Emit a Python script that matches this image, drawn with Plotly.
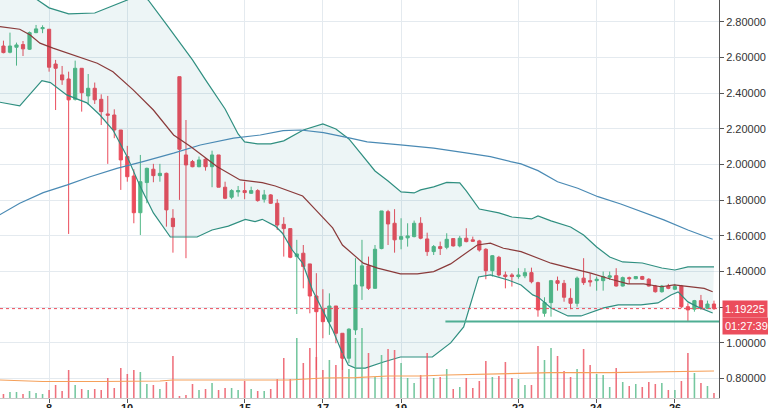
import plotly.graph_objects as go

# ---------------- data ----------------
opens = [2.665, 2.630, 2.658, 2.673, 2.647, 2.740, 2.762, 2.759, 2.564, 2.503,
         2.480, 2.366, 2.540, 2.385, 2.428, 2.366, 2.284, 2.278, 2.194, 2.045,
         1.936, 1.730, 1.899, 1.974, 1.938, 1.951, 1.699, 2.493, 2.054, 2.017,
         1.988, 2.030, 1.988, 2.054, 1.873, 1.817, 1.847, 1.854, 1.839, 1.854,
         1.806, 1.830, 1.783, 1.665, 1.641, 1.484, 1.503, 1.443, 1.263, 1.189,
         1.119, 1.207, 1.054, 0.914, 1.073, 1.319, 1.432, 1.306, 1.529, 1.736,
         1.671, 1.581, 1.589, 1.596, 1.671, 1.583, 1.512, 1.540, 1.536, 1.585,
         1.544, 1.587, 1.578, 1.572, 1.525, 1.405, 1.480, 1.381, 1.381, 1.372,
         1.376, 1.394, 1.338, 1.166, 1.226, 1.349, 1.334, 1.250, 1.222, 1.363,
         1.349, 1.349, 1.349, 1.368, 1.377, 1.319, 1.366, 1.360, 1.372, 1.357,
         1.319, 1.287, 1.319, 1.301, 1.319, 1.203, 1.189, 1.237, 1.194, 1.218]
highs = [2.695, 2.740, 2.684, 2.693, 2.746, 2.783, 2.781, 2.759, 2.587, 2.553,
         2.521, 2.583, 2.540, 2.508, 2.460, 2.394, 2.385, 2.310, 2.194, 2.105,
         1.974, 2.054, 1.983, 2.004, 2.004, 1.955, 1.750, 2.493, 2.250, 2.026,
         2.045, 2.036, 2.078, 2.054, 1.904, 1.862, 1.880, 1.904, 1.876, 1.862,
         1.858, 1.835, 1.806, 1.705, 1.641, 1.578, 1.549, 1.443, 1.391, 1.301,
         1.278, 1.207, 1.054, 1.082, 1.475, 1.578, 1.484, 1.549, 1.740, 1.746,
         1.750, 1.699, 1.671, 1.686, 1.705, 1.618, 1.549, 1.568, 1.615, 1.585,
         1.600, 1.643, 1.596, 1.578, 1.531, 1.493, 1.488, 1.400, 1.391, 1.419,
         1.419, 1.422, 1.343, 1.256, 1.353, 1.372, 1.353, 1.306, 1.372, 1.475,
         1.391, 1.372, 1.400, 1.400, 1.419, 1.372, 1.372, 1.372, 1.376, 1.363,
         1.325, 1.325, 1.331, 1.331, 1.325, 1.222, 1.241, 1.269, 1.237, 1.237]
lows = [2.624, 2.624, 2.555, 2.609, 2.643, 2.737, 2.737, 2.521, 2.306, 2.447,
        1.611, 2.359, 2.297, 2.335, 2.340, 2.222, 2.004, 2.148, 1.858, 1.904,
        1.671, 1.605, 1.783, 1.901, 1.904, 1.652, 1.506, 1.802, 1.475, 1.985,
        1.985, 1.966, 1.873, 1.873, 1.806, 1.806, 1.820, 1.806, 1.835, 1.792,
        1.787, 1.779, 1.633, 1.484, 1.475, 1.162, 1.306, 1.166, 0.848, 1.026,
        1.045, 0.998, 0.848, 0.886, 1.045, 1.241, 1.297, 1.306, 1.525, 1.549,
        1.506, 1.525, 1.540, 1.592, 1.581, 1.488, 1.493, 1.493, 1.525, 1.540,
        1.536, 1.564, 1.566, 1.512, 1.357, 1.372, 1.372, 1.306, 1.316, 1.360,
        1.363, 1.334, 1.147, 1.147, 1.147, 1.293, 1.231, 1.189, 1.203, 1.325,
        1.316, 1.293, 1.293, 1.353, 1.316, 1.316, 1.331, 1.357, 1.353, 1.316,
        1.282, 1.282, 1.301, 1.297, 1.194, 1.119, 1.175, 1.185, 1.189, 1.185]
closes = [2.628, 2.665, 2.671, 2.649, 2.740, 2.761, 2.768, 2.546, 2.540, 2.475,
          2.363, 2.540, 2.403, 2.428, 2.363, 2.297, 2.277, 2.194, 2.026, 1.932,
          1.730, 1.904, 1.979, 1.938, 1.951, 1.746, 1.652, 2.086, 1.998, 1.988,
          2.026, 1.988, 2.054, 1.873, 1.811, 1.854, 1.854, 1.843, 1.854, 1.798,
          1.830, 1.783, 1.661, 1.641, 1.480, 1.499, 1.428, 1.263, 1.175, 1.119,
          1.207, 1.054, 0.914, 1.077, 1.325, 1.432, 1.306, 1.525, 1.740, 1.667,
          1.578, 1.596, 1.600, 1.671, 1.587, 1.512, 1.540, 1.529, 1.581, 1.544,
          1.587, 1.568, 1.570, 1.521, 1.405, 1.489, 1.381, 1.372, 1.372, 1.381,
          1.394, 1.343, 1.185, 1.226, 1.349, 1.334, 1.256, 1.222, 1.363, 1.338,
          1.342, 1.357, 1.372, 1.376, 1.319, 1.366, 1.360, 1.372, 1.357, 1.319,
          1.287, 1.319, 1.306, 1.316, 1.203, 1.185, 1.237, 1.194, 1.218, 1.19225]
volumes = [4, 6, 6, 4, 7, 5, 4, 8, 13, 7,
           28, 13, 9, 8, 9, 8, 20, 10, 30, 24,
           28, 26, 14, 13, 9, 16, 42, 2, 3, 14,
           8, 9, 15, 8, 10, 10, 8, 17, 9, 7,
           7, 9, 19, 40, 19, 60, 35, 50, 41, 28,
           38, 33, 45, 29, 60, 70, 45, 21, 43, 49,
           48, 35, 20, 15, 23, 45, 20, 21, 29, 9,
           11, 20, 10, 17, 37, 21, 22, 36, 20, 19,
           13, 13, 52, 38, 50, 42, 27, 21, 29, 49,
           33, 24, 23, 11, 30, 16, 12, 14, 11, 16,
           14, 15, 8, 8, 17, 45, 25, 15, 12, 5]
candle_idx = list(range(len(closes)))

# Bollinger upper band
bb_upper_x = [-0.6, 3, 5, 7, 10, 14, 17, 19, 20.5, 22.2, 25, 29, 31, 34, 36, 37, 39, 41, 43, 46,
              49, 51, 53, 55, 57, 59, 61, 63, 64, 66, 68, 70, 71, 73, 76, 78, 81, 82, 84, 87,
              89, 91, 93, 95, 98, 101, 103, 105, 109]
bb_upper_y = [3.110, 2.991, 2.929, 2.879, 2.845, 2.850, 2.895, 2.923, 2.957, 2.923, 2.786, 2.587,
              2.475, 2.312, 2.172, 2.127, 2.116, 2.116, 2.133, 2.194, 2.228, 2.200, 2.144, 2.054,
              1.964, 1.908, 1.847, 1.841, 1.858, 1.875, 1.900, 1.897, 1.852, 1.751, 1.729, 1.706,
              1.695, 1.712, 1.684, 1.650, 1.605, 1.538, 1.482, 1.454, 1.448, 1.420, 1.409, 1.426,
              1.426]
# Bollinger lower band
bb_lower_x = [-0.6, 2.5, 5.9, 7.2, 9.7, 12.8, 14.8, 16.8, 19.0, 21.0, 23.0, 25.6, 29.7, 32.0,
              34.5, 37.1, 38.6, 39.7, 41.7, 42.8, 44.3, 45.9, 47.4, 48.9, 50.5, 52.0, 52.9,
              54.0, 55.5, 58.3, 60.9, 65.8, 68.6, 70.6, 71.7, 72.9, 74.7, 77.4, 79.4, 81.2,
              82.0, 84.0, 86.6, 88.6, 92.1, 94.3, 97.8, 100.4, 102.4, 103.5, 105.0, 106.5, 108.8]
bb_lower_y = [2.350, 2.329, 2.471, 2.460, 2.391, 2.346, 2.278, 2.194, 2.043, 1.875, 1.729, 1.594,
              1.594, 1.633, 1.655, 1.693, 1.680, 1.693, 1.655, 1.615, 1.521, 1.447, 1.297, 1.185,
              1.073, 0.942, 0.876, 0.859, 0.859, 0.893, 0.921, 0.921, 1.000, 1.090, 1.224, 1.370,
              1.381, 1.353, 1.325, 1.269, 1.258, 1.196, 1.151, 1.151, 1.196, 1.213, 1.213, 1.224,
              1.269, 1.286, 1.230, 1.202, 1.168]
# Bollinger basis
bb_mid_x = [-0.6, 2.5, 4.1, 5.6, 7.6, 11.3, 14.4, 16.8, 19.9, 23.0, 26.1, 28.7, 32.8, 36.3, 39.7,
            41.7, 44.3, 45.9, 47.9, 50.5, 52.0, 54.0, 55.2, 57.4, 60.9, 63.5, 66.0, 68.6, 70.6,
            72.7, 74.7, 76.7, 79.4, 81.4, 84.0, 87.0, 90.1, 93.2, 95.8, 98.2, 100.9, 102.9,
            105.0, 107.5, 108.8]
bb_mid_y = [2.774, 2.759, 2.727, 2.681, 2.653, 2.605, 2.568, 2.521, 2.419, 2.306, 2.166, 2.101,
            1.988, 1.914, 1.899, 1.880, 1.843, 1.824, 1.746, 1.645, 1.549, 1.484, 1.447, 1.419,
            1.387, 1.387, 1.400, 1.443, 1.493, 1.549, 1.559, 1.531, 1.512, 1.484, 1.447, 1.419,
            1.391, 1.357, 1.331, 1.331, 1.315, 1.325, 1.315, 1.306, 1.287]
# long moving average
ma_x = [-0.6, 2.5, 6.1, 9.8, 13.3, 17.4, 21.4, 26.1, 30.2, 35.3, 39.4, 42.9, 45.6, 49.1, 53.2,
        55.8, 60.9, 66.0, 71.2, 74.7, 77.8, 79.4, 82.0, 85.0, 88.1, 91.2, 94.7, 97.8, 101.3,
        105.0, 108.8]
ma_y = [1.718, 1.783, 1.843, 1.886, 1.932, 1.979, 2.017, 2.064, 2.110, 2.148, 2.166, 2.190,
        2.194, 2.179, 2.148, 2.127, 2.110, 2.092, 2.064, 2.045, 2.017, 2.004, 1.966, 1.904,
        1.867, 1.820, 1.779, 1.736, 1.690, 1.633, 1.581]
# volume moving average
vol_ma_x = [-0.6, 6, 15, 24, 26, 39, 44, 49, 54, 59, 64, 68, 75, 79, 84, 93, 103, 109]
vol_ma_y = [18, 16.5, 16.5, 17, 18, 18, 18, 20, 20.3, 22, 22, 23, 24, 24, 25.3, 25.3, 26.3, 27]

tick_idx = [7, 19, 37, 49, 61, 79, 91, 103]
tick_text = ["8", "10", "15", "17", "19", "22", "24", "26"]
price_ticks = [0.8, 1.0, 1.2, 1.4, 1.6, 1.8, 2.0, 2.2, 2.4, 2.6, 2.8]

last_price = 1.19225
countdown = "01:27:39"
support_level = 1.120
support_start = 67.8

x_range = [-0.53, 109.77]
y_range = [0.691, 2.923]

# ---------------- style ----------------
UP = "#53b987"
DOWN = "#eb4d5c"
BAND = "#2f8f80"
BASIS = "#8a3a3a"
MA_COL = "#4a8ab4"
VOL_MA = "#f5a05a"
GRID = "#e4eaef"
FONT = "Liberation Sans, Arial, sans-serif"

fig = go.Figure()

fig.add_trace(go.Scatter(x=bb_upper_x, y=bb_upper_y, mode="lines",
                         line=dict(color=BAND, width=1.2), hoverinfo="skip"))
fig.add_trace(go.Scatter(x=bb_lower_x, y=bb_lower_y, mode="lines",
                         line=dict(color=BAND, width=1.2), fill="tonexty",
                         fillcolor="rgba(0,110,130,0.07)", hoverinfo="skip"))
fig.add_trace(go.Scatter(x=ma_x, y=ma_y, mode="lines",
                         line=dict(color=MA_COL, width=1.2), hoverinfo="skip"))
fig.add_trace(go.Scatter(x=bb_mid_x, y=bb_mid_y, mode="lines",
                         line=dict(color=BASIS, width=1.2), hoverinfo="skip"))

fig.add_trace(go.Candlestick(
    x=candle_idx, open=opens, high=highs, low=lows, close=closes,
    increasing=dict(line=dict(color=UP, width=1), fillcolor=UP),
    decreasing=dict(line=dict(color=DOWN, width=1), fillcolor=DOWN),
    whiskerwidth=0, hoverinfo="skip"))

vol_colors = ["rgba(83,185,135,0.8)" if c >= o else "rgba(235,77,92,0.8)"
              for o, c in zip(opens, closes)]
fig.add_trace(go.Bar(x=candle_idx, y=volumes, marker=dict(color=vol_colors, line=dict(width=0)),
                     width=0.24, yaxis="y2", hoverinfo="skip"))
fig.add_trace(go.Scatter(x=vol_ma_x, y=vol_ma_y, mode="lines", yaxis="y2",
                         line=dict(color=VOL_MA, width=1.2), hoverinfo="skip"))

# day labels on the time axis (only their upper part is visible, as in the reference)
day_labels = [dict(xref="x", x=xv, yref="paper", y=0, yanchor="top", yshift=-3,
                   text=tt, showarrow=False, borderpad=0,
                   font=dict(family=FONT, size=11, color="#222222", weight="bold"))
              for xv, tt in zip(tick_idx, tick_text)]

fig.update_layout(
    width=768, height=408,
    margin=dict(l=0, r=49, t=0, b=10, autoexpand=False),
    paper_bgcolor="white", plot_bgcolor="white",
    showlegend=False,
    font=dict(family=FONT, size=11, color="#333333"),
    xaxis=dict(range=x_range, tickvals=tick_idx, ticktext=tick_text, showticklabels=False,
               showgrid=True, gridcolor=GRID, gridwidth=1, zeroline=False,
               ticks="outside", ticklen=4, tickcolor="#555555",
               showline=True, linecolor="#c8c8c8", linewidth=1,
               rangeslider=dict(visible=False), automargin=False),
    yaxis=dict(range=y_range, side="right", tickvals=price_ticks, tickformat=".5f",
               showgrid=True, gridcolor=GRID, gridwidth=1, zeroline=False,
               ticks="outside", ticklen=4, tickcolor="#555555",
               showline=True, linecolor="#555555", linewidth=1, automargin=False,
               tickfont=dict(family=FONT, size=11, color="#333333")),
    yaxis2=dict(range=[0, 398], overlaying="y", visible=False, showgrid=False),
    shapes=[
        dict(type="line", xref="paper", x0=0, x1=1, yref="y", y0=last_price, y1=last_price,
             line=dict(color=DOWN, width=1, dash="dot")),
        dict(type="line", xref="x", x0=support_start, x1=x_range[1], yref="y",
             y0=support_level, y1=support_level, line=dict(color="#4fae93", width=2)),
    ],
    annotations=day_labels + [
        dict(xref="paper", x=1, xanchor="left", xshift=3, yref="y", y=last_price,
             yanchor="middle", text=f"{last_price:.5f}", showarrow=False,
             bgcolor=DOWN, borderpad=2, font=dict(family=FONT, size=11, color="white")),
        dict(xref="paper", x=1, xanchor="left", xshift=3, yref="y", y=last_price,
             yanchor="middle", yshift=-17, text=countdown, showarrow=False,
             bgcolor=DOWN, borderpad=2, font=dict(family=FONT, size=11, color="white")),
    ],
)

fig.write_html("out.html")
